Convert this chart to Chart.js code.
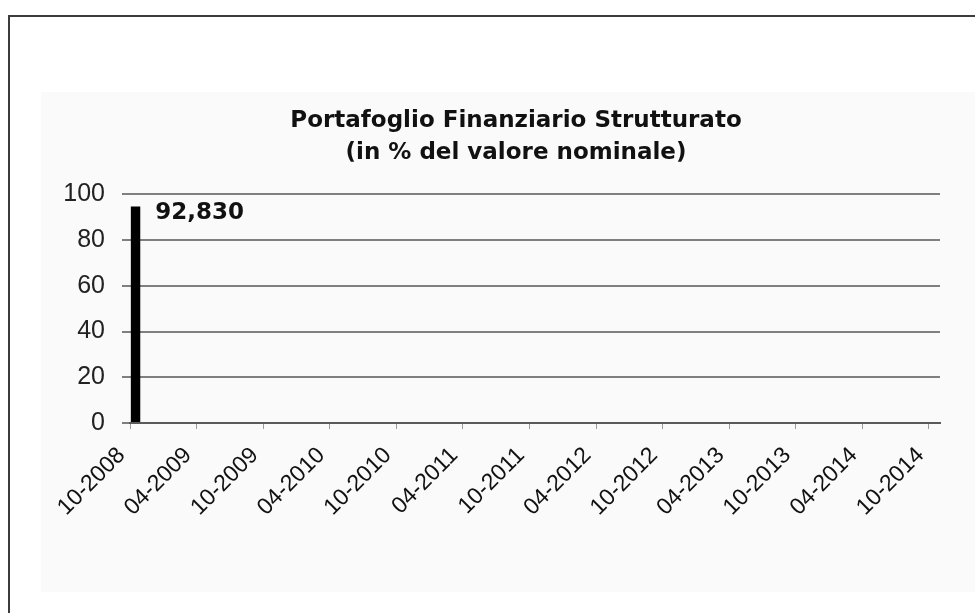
<!DOCTYPE html>
<html>
<head>
<meta charset="utf-8">
<script src="https://cdn.jsdelivr.net/npm/chart.js@4/dist/chart.umd.min.js"></script>
<style>
  html, body { margin: 0; padding: 0; background: #fff; }
  .frame {
    position: absolute; left: 8px; top: 15px; width: 980px; height: 610px;
    border-top: 2px solid #3c3c3c; border-left: 2px solid #3c3c3c;
  }
  .panel {
    position: absolute; left: 41px; top: 92px; width: 934px; height: 500px;
    background: #fafafa;
  }
  .wrap { position: absolute; left: 0; top: 0; width: 975px; height: 613px; }
</style>
</head>
<body>
<div class="frame"></div>
<div class="panel"></div>
<div class="wrap"><canvas id="chart-portafoglio" width="975" height="613"></canvas></div>
<script>
// monthly axis, 10-2008 .. 10-2014, labelled every 6 months
const firstMonth = 10;
const firstYear = 2008;
const monthCount = 73;
const labelEvery = 6;

const values = [94.7];          // only the 10-2008 bar is present
const valueLabels = ["92,830"]; // text printed next to the bar

const yTicks = [0, 20, 40, 60, 80, 100];

const titleLines = ["Portafoglio Finanziario Strutturato", "(in % del valore nominale)"];

const months = [];
for (let i = 0; i < monthCount; i++) {
    const m = (firstMonth - 1 + i) % 12 + 1;
    const y = firstYear + Math.floor((firstMonth - 1 + i) / 12);
    months.push(String(m).padStart(2, "0") + "-" + y);
}

const fontFamily = "'Liberation Sans', Arial, Helvetica, sans-serif";
const wideFamily = "'DejaVu Sans', Verdana, sans-serif";

const barValueLabel = {
    id: "barValueLabel",
    afterDatasetsDraw(chart) {
        const meta = chart.getDatasetMeta(0);
        const ctx = chart.ctx;
        ctx.save();
        ctx.fillStyle = "#111";
        ctx.font = "bold 23px " + wideFamily;
        ctx.textAlign = "left";
        ctx.textBaseline = "alphabetic";
        meta.data.forEach((bar, i) => {
            if (values[i] == null) return;
            ctx.fillText(valueLabels[i], bar.x + bar.width / 2 + 15, bar.y + 12);
        });
        ctx.restore();
    }
};

// title sits a bit right of the canvas centre, over the plot area
const titleShift = {
    id: "titleShift",
    afterLayout(chart) {
        if (chart.titleBlock) {
            chart.titleBlock.left = 92;
        }
    }
};

const ctx = document.getElementById("chart-portafoglio");

new Chart(ctx, {
    type: "bar",
    data: {
        labels: months,
        datasets: [{
            data: values,
            backgroundColor: "#000",
            borderWidth: 0,
            categoryPercentage: 1,
            barPercentage: 0.85
        }]
    },
    options: {
        responsive: false,
        animation: false,
        layout: {
            padding: { top: 95, right: 35, left: 0, bottom: 0 }
        },
        plugins: {
            legend: { display: false },
            tooltip: { enabled: false },
            title: {
                display: true,
                text: titleLines,
                color: "#111",
                font: { family: wideFamily, size: 23, weight: "bold", lineHeight: 1.4 },
                padding: { top: 10, bottom: 25 }
            }
        },
        scales: {
            x: {
                offset: true,
                afterFit: (scale) => { scale.height = 190; },
                grid: {
                    offset: true,
                    drawOnChartArea: false,
                    drawTicks: true,
                    tickLength: 6,
                    lineWidth: 1,
                    color: (c) => (c.index % labelEvery === 0 ? "#9a9a9a" : "rgba(0,0,0,0)")
                },
                border: { display: true, color: "#5a5a5a", width: 2 },
                ticks: {
                    autoSkip: false,
                    maxRotation: 45,
                    minRotation: 45,
                    padding: 13,
                    labelOffset: -14,
                    color: "#111",
                    font: { family: fontFamily, size: 23 },
                    callback: function (v, i) {
                        return i % labelEvery === 0 ? this.getLabelForValue(v) : "";
                    }
                }
            },
            y: {
                min: yTicks[0],
                max: yTicks[yTicks.length - 1],
                afterFit: (scale) => { scale.width = 130; },
                afterBuildTicks: (scale) => {
                    scale.ticks = yTicks.map(v => ({ value: v }));
                },
                grid: {
                    color: "#7f7f7f",
                    lineWidth: 2,
                    drawTicks: true,
                    tickLength: 8
                },
                border: { display: false },
                ticks: {
                    padding: 17,
                    color: "#222",
                    font: { family: fontFamily, size: 25 }
                }
            }
        }
    },
    plugins: [barValueLabel, titleShift]
});
</script>
</body>
</html>
